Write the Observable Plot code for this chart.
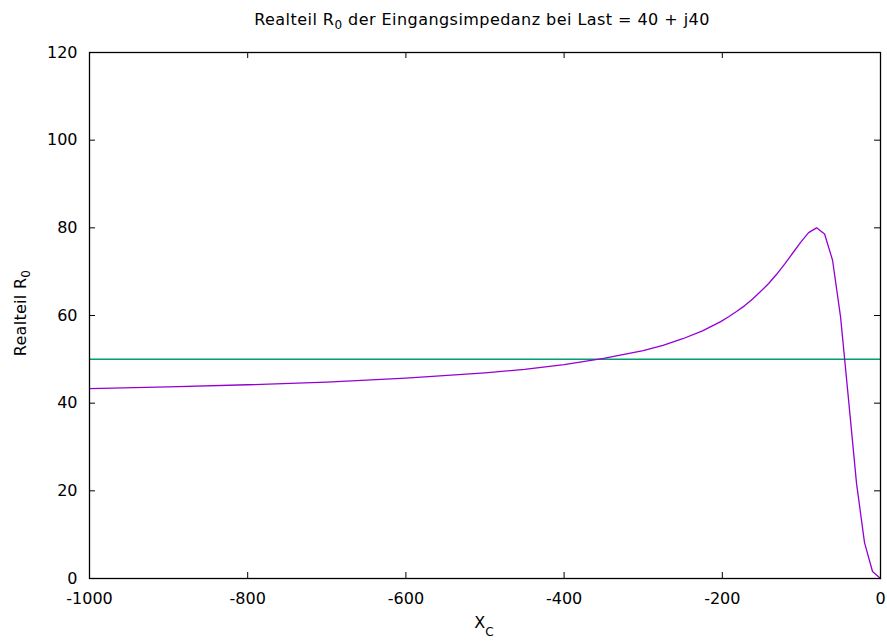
<!DOCTYPE html>
<html><head><meta charset="utf-8">
<script src="https://cdn.jsdelivr.net/npm/d3@7"></script>
<script src="https://cdn.jsdelivr.net/npm/@observablehq/plot@0.6"></script>
<style>body{margin:0;background:#fff}</style>
</head><body><div id="chart"></div>
<script>
const xc = [-1000,-900,-800,-700,-600,-500,-450,-400,-350,-300,-275,-250,-225,-202,-192,-182,-172,-162,-152,-141.4,-131.3,-121.2,-111.1,-101,-90.9,-80.8,-70.7,-60.6,-50.5,-40.4,-30.3,-20.2,-10.1,0];
const r0 = [43.3,43.7,44.2,44.8,45.7,46.9,47.7,48.8,50.2,52.0,53.2,54.7,56.5,58.6,59.7,60.9,62.2,63.7,65.4,67.3,69.4,71.7,74.2,76.7,78.9,80.0,78.6,72.6,59.7,40.8,21.7,8.2,1.6,0];
const refLevel = [50];
const xTicks = [-1000,-800,-600,-400,-200,0];
const yTicks = [0,20,40,60,80,100,120];

const curve = xc.map((x, i) => ({x, y: r0[i]}));
const W = 887, H = 643, mL = 89, mR = 7, mT = 52, mB = 65;
const fw = W - mL - mR, fh = H - mT - mB, tk = 6;
const FONT = "DejaVu Sans, sans-serif";

const plot = Plot.plot({
  width: W, height: H,
  marginLeft: mL, marginRight: mR, marginTop: mT, marginBottom: mB,
  style: {fontFamily: FONT, fontSize: "16px", color: "#000", background: "#fff", overflow: "visible"},
  x: {domain: [-1000, 0]},
  y: {domain: [0, 120]},
  marks: [
    Plot.ruleY(refLevel, {stroke: "#009e73", strokeWidth: 1.5}),
    Plot.line(curve, {x: "x", y: "y", stroke: "#9400d3", strokeWidth: 1.3}),
    Plot.tickX(xTicks, {x: d => d, insetTop: fh - tk, stroke: "#000"}),
    Plot.tickX(xTicks, {x: d => d, insetBottom: fh - tk, stroke: "#000"}),
    Plot.tickY(yTicks, {y: d => d, insetRight: fw - tk, stroke: "#000"}),
    Plot.tickY(yTicks, {y: d => d, insetLeft: fw - tk, stroke: "#000"}),
    Plot.axisX(xTicks, {anchor: "bottom", tickSize: 0, tickPadding: 14, label: null, tickFormat: d => String(d)}),
    Plot.axisY(yTicks, {anchor: "left", tickSize: 0, tickPadding: 12, label: null, tickFormat: d => String(d)}),
    Plot.frame({stroke: "#000", strokeWidth: 1.3})
  ]
});
document.getElementById("chart").append(plot);

const svg = d3.select(plot);
const title = svg.append("text")
  .attr("x", 482).attr("y", 25).attr("text-anchor", "middle")
  .attr("letter-spacing", "0.45px")
  .attr("font-family", FONT).attr("font-size", 16).attr("fill", "#000");
title.append("tspan").text("Realteil R");
title.append("tspan").attr("font-size", 12).attr("dy", 4).text("0");
title.append("tspan").attr("dy", -4).text(" der Eingangsimpedanz bei Last = 40 + j40");

const ylab = svg.append("text")
  .attr("transform", "translate(26,313) rotate(-90)").attr("text-anchor", "middle")
  .attr("letter-spacing", "0.3px")
  .attr("font-family", FONT).attr("font-size", 16).attr("fill", "#000");
ylab.append("tspan").text("Realteil R");
ylab.append("tspan").attr("font-size", 12).attr("dy", 4).text("0");

const xlab = svg.append("text")
  .attr("x", 484).attr("y", 628).attr("text-anchor", "middle")
  .attr("font-family", FONT).attr("font-size", 16).attr("fill", "#000");
xlab.append("tspan").text("X");
xlab.append("tspan").attr("font-size", 12).attr("dy", 8).text("C");
</script>
</body></html>
